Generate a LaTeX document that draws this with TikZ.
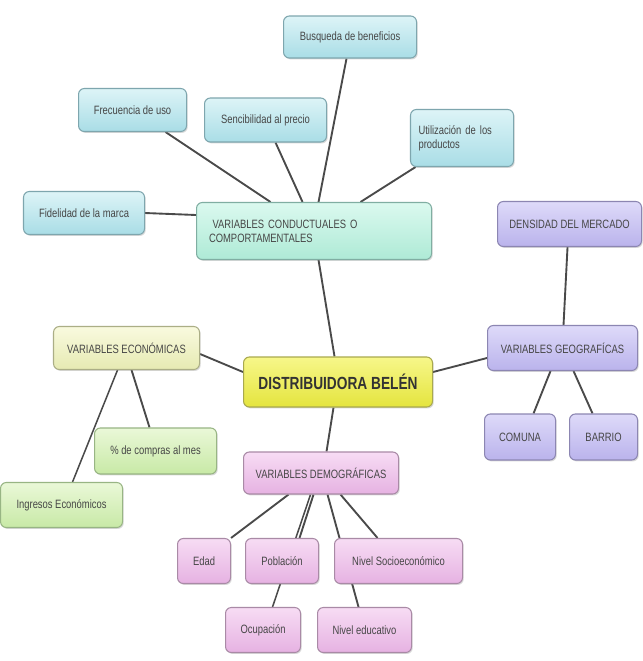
\documentclass[tikz,border=0pt]{standalone}
\usepackage{fontspec}
\setmainfont{Liberation Sans}[FakeStretch=0.78]
\usetikzlibrary{positioning, calc, shadows, backgrounds}

\definecolor{txtgray}{HTML}{464646}
\definecolor{linegray}{HTML}{4A4A4A}
% fill pairs (top, bottom) and borders
\definecolor{cyantop}{HTML}{DDF4F7}\definecolor{cyanbot}{HTML}{A9DDE6}\definecolor{cyanline}{HTML}{7EA6AE}
\definecolor{minttop}{HTML}{DBF9EF}\definecolor{mintbot}{HTML}{AEEAD6}\definecolor{mintline}{HTML}{80AEA2}
\definecolor{lilactop}{HTML}{DEDAF9}\definecolor{lilacbot}{HTML}{BAB3EC}\definecolor{lilacline}{HTML}{8C86B2}
\definecolor{creamtop}{HTML}{F9FADF}\definecolor{creambot}{HTML}{E6EAB2}\definecolor{creamline}{HTML}{ABAE86}
\definecolor{greentop}{HTML}{EAF8D8}\definecolor{greenbot}{HTML}{C8E9A6}\definecolor{greenline}{HTML}{98B584}
\definecolor{pinktop}{HTML}{F7DCF4}\definecolor{pinkbot}{HTML}{E6B2E2}\definecolor{pinkline}{HTML}{A98AA6}
\definecolor{yeltop}{HTML}{F7F78A}\definecolor{yelbot}{HTML}{E4E43E}\definecolor{yelline}{HTML}{A9A94E}

\begin{document}
\begin{tikzpicture}[x=0.03cm, y=-0.03cm,
  every node/.style={font=\fontsize{10.3}{12}\selectfont, text=txtgray},
  box/.style={draw, line width=0.9pt, rounded corners=5pt, inner sep=2pt,
    drop shadow={opacity=0.3, shadow xshift=1pt, shadow yshift=-1.2pt}},
  boxsize/.style 2 args={minimum width=#1*0.03cm, minimum height=#2*0.03cm},
  cyanbox/.style={box, top color=cyantop, bottom color=cyanbot, draw=cyanline},
  mintbox/.style={box, top color=minttop, bottom color=mintbot, draw=mintline},
  lilacbox/.style={box, top color=lilactop, bottom color=lilacbot, draw=lilacline},
  creambox/.style={box, top color=creamtop, bottom color=creambot, draw=creamline},
  greenbox/.style={box, top color=greentop, bottom color=greenbot, draw=greenline},
  pinkbox/.style={box, top color=pinktop, bottom color=pinkbot, draw=pinkline},
  yellowbox/.style={box, top color=yeltop, bottom color=yelbot, draw=yelline},
  link/.style={draw=linegray, line width=1.6pt}]

% behaviour branch
\node[cyanbox, boxsize={133}{42}] (bus) at (349.5,37) {Busqueda de beneficios};
\node[cyanbox, boxsize={108}{43}] (frec) at (132,110) {Frecuencia de uso};
\node[cyanbox, boxsize={122}{44}] (sens) at (265,120) {Sencibilidad al precio};
\node[cyanbox, boxsize={103}{57}, align=left, text width=2.61cm, inner xsep=0.24cm] (util) at (461.5,138) {Utilización de los\\productos};
\node[cyanbox, boxsize={121}{43}] (fid) at (83.5,213) {Fidelidad de la marca};
\node[mintbox, boxsize={235}{57}, align=left, text width=6.3cm, inner xsep=0.36cm] (cond) at (313.5,231) {\hspace{3pt}VARIABLES CONDUCTUALES O\\COMPORTAMENTALES};

% centre and geography
\node[yellowbox, boxsize={189}{50}, font=\fontsize{15}{17}\selectfont\bfseries, text=black!80] (dist) at (337.5,382) {DISTRIBUIDORA BELÉN};
\node[lilacbox, boxsize={144}{45}] (dens) at (569,224) {DENSIDAD DEL MERCADO};
\node[lilacbox, boxsize={150}{45}] (geo) at (562,348) {VARIABLES GEOGRAFÍCAS};
\node[lilacbox, boxsize={71}{46}] (comuna) at (519.5,437) {COMUNA};
\node[lilacbox, boxsize={68}{46}] (barrio) at (603,437) {BARRIO};

% economy
\node[creambox, boxsize={146}{43}] (econ) at (126,348) {VARIABLES ECONÓMICAS};
\node[greenbox, boxsize={122}{46}] (compras) at (155,451) {\% de compras al mes};
\node[greenbox, boxsize={122}{45}] (ingr) at (61,505) {Ingresos Económicos};

% demography
\node[pinkbox, boxsize={155}{42}] (demog) at (320.5,473) {VARIABLES DEMOGRÁFICAS};
\node[pinkbox, boxsize={53}{45}] (edad) at (203.5,561) {Edad};
\node[pinkbox, boxsize={73}{45}] (pobl) at (281.5,561) {Población};
\node[pinkbox, boxsize={128}{45}] (socio) at (398,561) {Nivel Socioeconómico};
\node[pinkbox, boxsize={75}{45}] (ocup) at (262.5,630) {Ocupación};
\node[pinkbox, boxsize={94}{45}] (educ) at (364,630) {Nivel educativo};

\begin{scope}[on background layer]
\fill[white] (0,0) rectangle (642,661);
% links into the behaviour box
\draw[link] ($(bus.south)+(-3.5,0)$) -- ($(cond.north)+(4.5,0)$);
\draw[link] ($(frec.south)+(33,0)$) -- ($(cond.north)+(-43.5,0)$);
\draw[link] ($(sens.south)+(10,0)$) -- ($(cond.north)+(-11.5,0)$);
\draw[link] ($(util.south)+(-46.5,0)$) -- ($(cond.north)+(46.5,0)$);
\draw[link] (fid.east) -- ($(cond.west)+(0,-16)$);
% links around the centre
\draw[link] ($(cond.south)+(4.5,0)$) -- ($(dist.north)+(-3.5,0)$);
\draw[link] ($(econ.east)+(0,6)$) -- ($(dist.west)+(0,-10)$);
\draw[link] ($(dist.east)+(0,-10)$) -- ($(geo.west)+(0,10)$);
\draw[link] ($(dist.south)+(-4.5,0)$) -- ($(demog.north)+(5.5,0)$);
\draw[link] ($(dens.south)+(-2,0)$) -- ($(geo.north)+(1,0)$);
\draw[link] ($(geo.south)+(-12,0)$) -- ($(comuna.north)+(13.5,0)$);
\draw[link] ($(geo.south)+(11,0)$) -- ($(barrio.north)+(-11,0)$);
\draw[link] ($(econ.south)+(5,0)$) -- ($(compras.north)+(-6,0)$);
\draw[link, line width=1.3pt] ($(econ.south)+(-9,0)$) -- ($(ingr.north)+(11,0)$);
% demographic leaves
\draw[link] ($(demog.south)+(-32.5,0)$) -- (edad.north east);
\draw[link] ($(demog.south)+(-7.5,0)$) -- ($(pobl.north)+(17.5,0)$);
\draw[link, line width=1.3pt] ($(demog.south)+(-10.5,0)$) -- ($(ocup.north)+(9.5,0)$);
\draw[link] ($(demog.south)+(19.5,0)$) -- ($(socio.north)+(-21,0)$);
\draw[link] ($(demog.south)+(6.5,0)$) -- ($(educ.north)+(-6,0)$);
\end{scope}
\useasboundingbox (0,0) rectangle (642,661);
\end{tikzpicture}
\end{document}
